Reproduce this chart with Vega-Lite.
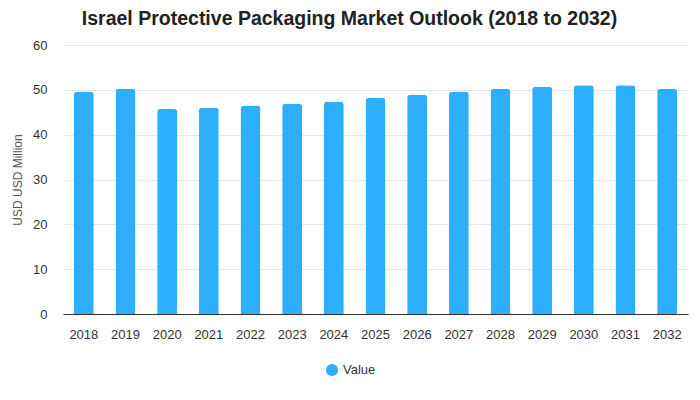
{
  "$schema": "https://vega.github.io/schema/vega-lite/v6.json",
  "width": 625,
  "height": 269,
  "autosize": {"type": "none"},
  "padding": {"left": 63, "top": 45, "right": 12, "bottom": 86},
  "background": "white",
  "title": {
    "text": "Israel Protective Packaging Market Outlook (2018 to 2032)",
    "fontSize": 19.5,
    "fontWeight": "bold",
    "font": "Liberation Sans",
    "color": "#222222",
    "anchor": "middle",
    "dx": -26,
    "offset": 10
  },
  "data": {
    "values": [
      {"year": "2018", "value": 49.6, "series": "Value"},
      {"year": "2019", "value": 50.2, "series": "Value"},
      {"year": "2020", "value": 45.7, "series": "Value"},
      {"year": "2021", "value": 46.0, "series": "Value"},
      {"year": "2022", "value": 46.4, "series": "Value"},
      {"year": "2023", "value": 46.9, "series": "Value"},
      {"year": "2024", "value": 47.3, "series": "Value"},
      {"year": "2025", "value": 48.2, "series": "Value"},
      {"year": "2026", "value": 48.9, "series": "Value"},
      {"year": "2027", "value": 49.6, "series": "Value"},
      {"year": "2028", "value": 50.2, "series": "Value"},
      {"year": "2029", "value": 50.7, "series": "Value"},
      {"year": "2030", "value": 51.0, "series": "Value"},
      {"year": "2031", "value": 51.0, "series": "Value"},
      {"year": "2032", "value": 50.2, "series": "Value"}
    ]
  },
  "mark": {"type": "bar", "cornerRadiusTopLeft": 3, "cornerRadiusTopRight": 3},
  "encoding": {
    "x": {
      "field": "year",
      "type": "ordinal",
      "scale": {"paddingInner": 0.52, "paddingOuter": 0.26},
      "axis": {
        "title": null,
        "labelAngle": 0,
        "labelFontSize": 13,
        "labelFont": "Liberation Sans",
        "labelColor": "#333333",
        "labelPadding": 14,
        "ticks": false,
        "domainColor": "#333333",
        "domainWidth": 1.2,
        "grid": false
      }
    },
    "y": {
      "field": "value",
      "type": "quantitative",
      "scale": {"domain": [0, 60]},
      "axis": {
        "title": "USD USD Million",
        "titleFontSize": 12,
        "titleFont": "Liberation Sans",
        "titleFontWeight": "normal",
        "titleColor": "#555555",
        "titlePadding": 8,
        "values": [0, 10, 20, 30, 40, 50, 60],
        "labelFontSize": 13,
        "labelFont": "Liberation Sans",
        "labelColor": "#333333",
        "labelPadding": 16,
        "ticks": false,
        "domain": false,
        "gridColor": "#e6e6e6"
      }
    },
    "color": {
      "field": "series",
      "type": "nominal",
      "scale": {"range": ["#2eaeff"]},
      "legend": {
        "title": null,
        "orient": "none",
        "legendX": 262,
        "legendY": 318,
        "symbolType": "circle",
        "symbolSize": 150,
        "labelFontSize": 13,
        "labelFont": "Liberation Sans",
        "labelColor": "#333333",
        "symbolOpacity": 1
      }
    }
  },
  "config": {"view": {"stroke": null}}
}
